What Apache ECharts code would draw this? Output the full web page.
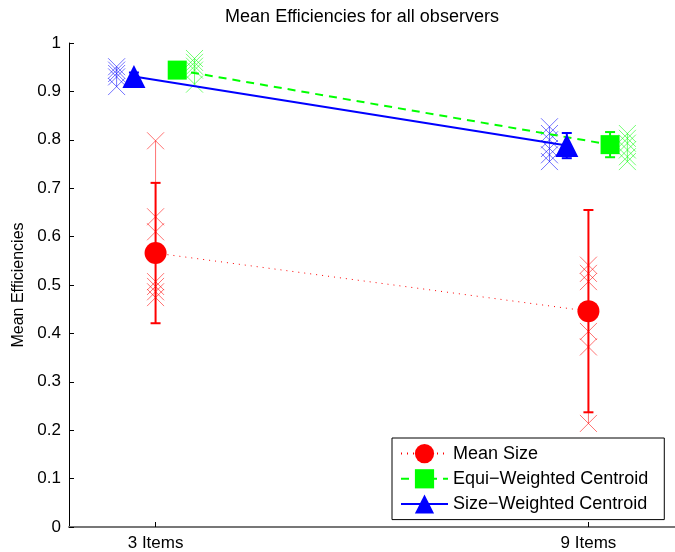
<!DOCTYPE html>
<html>
<head>
<meta charset="utf-8">
<title>Mean Efficiencies for all observers</title>
<script src="https://cdn.jsdelivr.net/npm/echarts@6/dist/echarts.min.js"></script>
<style>
  html, body { margin: 0; padding: 0; background: #fff; }
  #chart { width: 675px; height: 552px; }
</style>
</head>
<body>
<div id="chart"></div>
<script>
// x positions of the two conditions (value axis so the markers can be offset)
var categories = ['3 Items', '9 Items'];
var catPos = [1, 2];
var yTicks = [0, 0.1, 0.2, 0.3, 0.4, 0.5, 0.6, 0.7, 0.8, 0.9, 1];

// means and error bar half-widths
var meanSize = [0.566, 0.446];
var meanSizeErr = [0.145, 0.209];
var equiWeighted = [0.944, 0.790];
var equiErr = [0.008, 0.026];
var sizeWeighted = [0.931, 0.788];
var sizeErr = [0.008, 0.026];

// individual observers
var meanSizeObs3 = [0.798, 0.641, 0.610, 0.507, 0.497, 0.486, 0.474];
var meanSizeObs9 = [0.541, 0.524, 0.507, 0.404, 0.372, 0.214];
var equiObs3 = [0.968, 0.960, 0.952, 0.944, 0.915];
var equiObs9 = [0.813, 0.803, 0.793, 0.779, 0.765, 0.755];
var sizeObs3 = [0.951, 0.944, 0.937, 0.930, 0.910];
var sizeObs9 = [0.827, 0.813, 0.800, 0.782, 0.769, 0.755];

var RED = '#ff0000', GREEN = '#00ff00', BLUE = '#0000ff';
var FONT = '"Liberation Sans", Arial, Helvetica, sans-serif';
var CROSS = 'path://M0,0L10,10M10,0L0,10';

function line(offset, vals) {
    return vals.map(function (v, i) { return [catPos[i] + offset, v]; });
}
function bars(offset, vals, errs) {
    return vals.map(function (v, i) { return [catPos[i] + offset, v - errs[i], v + errs[i]]; });
}

// observers of one condition: crosses joined by a thin vertical line
function obsSeries(x, list, color) {
    return {
        type: 'line',
        data: list.map(function (v) { return [x, v]; }),
        symbol: CROSS,
        symbolSize: 17,
        showAllSymbol: true,
        silent: true,
        z: 1,
        itemStyle: { color: 'none', borderColor: color, borderWidth: 1, opacity: 0.55 },
        lineStyle: { color: color, width: 1, opacity: 0.55 }
    };
}

function errSeries(data, color) {
    return {
        type: 'custom',
        data: data,
        silent: true,
        z: 2,
        renderItem: function (params, api) {
            var x = api.value(0);
            var lo = api.coord([x, api.value(1)]);
            var hi = api.coord([x, api.value(2)]);
            var st = { stroke: color, lineWidth: 2 };
            return {
                type: 'group',
                children: [
                    { type: 'line', shape: { x1: lo[0], y1: lo[1], x2: hi[0], y2: hi[1] }, style: st },
                    { type: 'line', shape: { x1: lo[0] - 5, y1: lo[1], x2: lo[0] + 5, y2: lo[1] }, style: st },
                    { type: 'line', shape: { x1: hi[0] - 5, y1: hi[1], x2: hi[0] + 5, y2: hi[1] }, style: st }
                ]
            };
        }
    };
}

var chart = echarts.init(document.getElementById('chart'));

var option = {
    backgroundColor: '#fff',
    animation: false,
    textStyle: { fontFamily: FONT },
    graphic: [{
        type: 'text',
        x: 362, y: 8,
        style: { text: 'Mean Efficiencies for all observers', fontSize: 18, fontFamily: FONT, fill: '#000', align: 'center' }
    }],
    legend: {
        orient: 'vertical',
        left: 392, top: 438,
        padding: [6, 16, 6, 8],
        itemWidth: 47,
        itemHeight: 24,
        itemGap: 6,
        borderColor: '#000',
        borderWidth: 1,
        backgroundColor: '#fff',
        textStyle: { fontSize: 18, color: '#000', fontFamily: FONT },
        data: ['Mean Size', 'Equi\u2212Weighted Centroid', 'Size\u2212Weighted Centroid']
    },
    grid: { left: 69, right: -5, top: 43, bottom: 25 },
    xAxis: {
        type: 'value',
        min: 0.8, max: 2.2,
        splitLine: { show: false },
        axisLine: { lineStyle: { color: '#777', width: 2 } },
        axisTick: { inside: true, length: 5, customValues: catPos, lineStyle: { color: '#000' } },
        axisLabel: {
            customValues: catPos,
            fontSize: 17, color: '#000', margin: 8,
            formatter: function (v) { return categories[catPos.indexOf(Math.round(v))]; }
        }
    },
    yAxis: {
        type: 'value',
        min: 0, max: 1, interval: 0.1,
        name: 'Mean Efficiencies',
        nameLocation: 'middle',
        nameGap: 38,
        nameTextStyle: { fontSize: 16, color: '#000' },
        splitLine: { show: false },
        axisLine: { show: true, lineStyle: { color: '#000', width: 1 } },
        axisTick: { inside: true, length: 5, lineStyle: { color: '#000' } },
        axisLabel: {
            fontSize: 17, color: '#000', margin: 8,
            formatter: function (v) { return String(yTicks[Math.round(v * 10)]); }
        }
    },
    series: [
        obsSeries(catPos[0], meanSizeObs3, RED),
        obsSeries(catPos[1], meanSizeObs9, RED),
        obsSeries(catPos[0] + 0.09, equiObs3, GREEN),
        obsSeries(catPos[1] + 0.09, equiObs9, GREEN),
        obsSeries(catPos[0] - 0.09, sizeObs3, BLUE),
        obsSeries(catPos[1] - 0.09, sizeObs9, BLUE),
        errSeries(bars(0, meanSize, meanSizeErr), RED),
        errSeries(bars(0.05, equiWeighted, equiErr), GREEN),
        errSeries(bars(-0.05, sizeWeighted, sizeErr), BLUE),
        {
            name: 'Mean Size',
            type: 'line',
            data: line(0, meanSize),
            symbol: 'circle',
            symbolSize: 22,
            z: 3,
            itemStyle: { color: RED },
            lineStyle: { color: RED, width: 1, type: [1, 5] }
        },
        {
            name: 'Equi\u2212Weighted Centroid',
            type: 'line',
            data: line(0.05, equiWeighted),
            symbol: 'rect',
            symbolSize: 19,
            z: 3,
            itemStyle: { color: GREEN },
            lineStyle: { color: GREEN, width: 2, type: [8, 6] }
        },
        {
            name: 'Size\u2212Weighted Centroid',
            type: 'line',
            data: line(-0.05, sizeWeighted),
            symbol: 'triangle',
            symbolSize: 23,
            z: 3,
            itemStyle: { color: BLUE },
            lineStyle: { color: BLUE, width: 2 }
        }
    ]
};

chart.setOption(option);
</script>
</body>
</html>
